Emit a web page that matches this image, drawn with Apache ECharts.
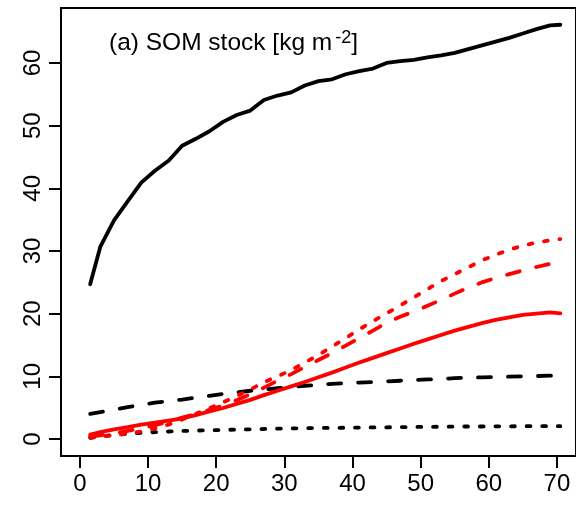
<!DOCTYPE html>
<html>
<head>
<meta charset="utf-8">
<script src="https://cdn.jsdelivr.net/npm/echarts@6/dist/echarts.min.js"></script>
<style>html,body{margin:0;padding:0;background:#fff;}#c{width:576px;height:507px;}</style>
</head>
<body>
<div id="c"></div>
<script>
const years = [1.5,3,5,7,9,11,13,15,17,19,21,23,25,27,29,31,33,35,37,39,41,43,45,47,49,51,53,55,57,59,61,63,65,67,69,70.5];
const blackSolid = [24.7,30.7,34.9,37.9,40.9,42.8,44.4,46.8,47.9,49.1,50.6,51.7,52.4,54.1,54.8,55.3,56.4,57.1,57.4,58.2,58.7,59.1,60.0,60.3,60.5,60.9,61.2,61.6,62.2,62.8,63.4,64.0,64.7,65.4,66.0,66.1];
const blackDashed = [4.0,4.3,4.7,5.1,5.45,5.8,6.05,6.3,6.6,6.9,7.2,7.45,7.7,7.9,8.1,8.3,8.5,8.65,8.8,8.9,9.0,9.1,9.2,9.3,9.4,9.5,9.6,9.7,9.8,9.85,9.9,9.95,10.0,10.05,10.1,10.1];
const blackDotted = [0.2,0.4,0.65,0.85,1.0,1.1,1.2,1.28,1.35,1.4,1.45,1.5,1.55,1.6,1.65,1.7,1.72,1.75,1.78,1.8,1.83,1.85,1.87,1.9,1.92,1.94,1.96,1.98,2.0,2.0,2.02,2.03,2.04,2.05,2.05,2.05];
const redSolid = [0.7,1.1,1.55,1.9,2.3,2.6,2.95,3.3,3.8,4.4,4.95,5.6,6.25,7.0,7.7,8.4,9.1,9.85,10.6,11.4,12.2,12.95,13.7,14.45,15.2,15.9,16.6,17.3,17.9,18.5,19.0,19.4,19.8,20.0,20.2,20.05];
const redDashed = [0.4,0.6,0.9,1.3,1.75,2.2,2.8,3.4,4.0,4.65,5.35,6.2,7.15,8.2,9.3,10.35,11.5,12.6,13.7,14.9,16.1,17.3,18.55,19.5,20.35,21.25,22.2,23.2,24.15,25.0,25.7,26.3,26.9,27.45,27.95,28.2];
const redDotted = [0.25,0.4,0.6,0.9,1.2,1.7,2.3,3.1,4.0,4.9,5.85,6.85,7.9,9.05,10.0,11.0,12.2,13.4,14.75,16.1,17.5,18.8,20.05,21.3,22.6,23.9,25.2,26.3,27.4,28.5,29.4,30.2,30.85,31.35,31.7,31.9];
const xTicks = [0,10,20,30,40,50,60,70];
const yTicks = [0,10,20,30,40,50,60];
const titleText = '(a) SOM stock [kg m';

const FONT = 'Liberation Sans';
const pairs = v => years.map((x, i) => [x, v[i]]);
const mk = (data, color, type) => ({
  type: 'line', data: pairs(data), showSymbol: false, symbol: 'none',
  animation: false, silent: true,
  lineStyle: { color: color, width: 3.8, type: type, cap: 'round', join: 'round' }
});

const chart = echarts.init(document.getElementById('c'));
chart.setOption({
  animation: false,
  backgroundColor: '#fff',
  title: {
    text: '{a|' + titleText + '}{s|-2}{a|]}',
    left: 104, top: 24,
    textStyle: {
      fontWeight: 'normal',
      rich: {
        a: { fontSize: 24.5, fontFamily: FONT, fontWeight: 'normal', color: '#000', lineHeight: 28 },
        s: { fontSize: 18, fontFamily: FONT, fontWeight: 'normal', color: '#000', verticalAlign: 'top', lineHeight: 17, padding: [0, 0, 0, 3] }
      }
    }
  },
  grid: { left: 61, top: 8, width: 517, height: 448, show: true, borderColor: '#000', borderWidth: 2, containLabel: false },
  xAxis: {
    type: 'value', min: -2.78, max: 72.8,
    axisLine: { show: true, onZero: false, lineStyle: { color: '#000', width: 2 } },
    axisTick: { show: true, length: 12, lineStyle: { color: '#000', width: 2 }, customValues: xTicks },
    axisLabel: { customValues: xTicks, fontSize: 24, fontFamily: FONT, color: '#000', margin: 16 },
    splitLine: { show: false }
  },
  yAxis: {
    type: 'value', min: -2.71, max: 68.77,
    axisLine: { show: true, onZero: false, lineStyle: { color: '#000', width: 2 } },
    axisTick: { show: true, length: 12, lineStyle: { color: '#000', width: 2 }, customValues: yTicks },
    axisLabel: { customValues: yTicks, fontSize: 24, fontFamily: FONT, color: '#000', margin: 16, rotate: 90 },
    splitLine: { show: false }
  },
  series: [
    mk(blackSolid, '#000', 'solid'),
    mk(blackDashed, '#000', [13, 17]),
    mk(blackDotted, '#000', [3.8, 11.8]),
    mk(redSolid, '#ff0000', 'solid'),
    mk(redDashed, '#ff0000', [13, 17]),
    mk(redDotted, '#ff0000', [3.8, 11.8])
  ]
});
</script>
</body>
</html>
